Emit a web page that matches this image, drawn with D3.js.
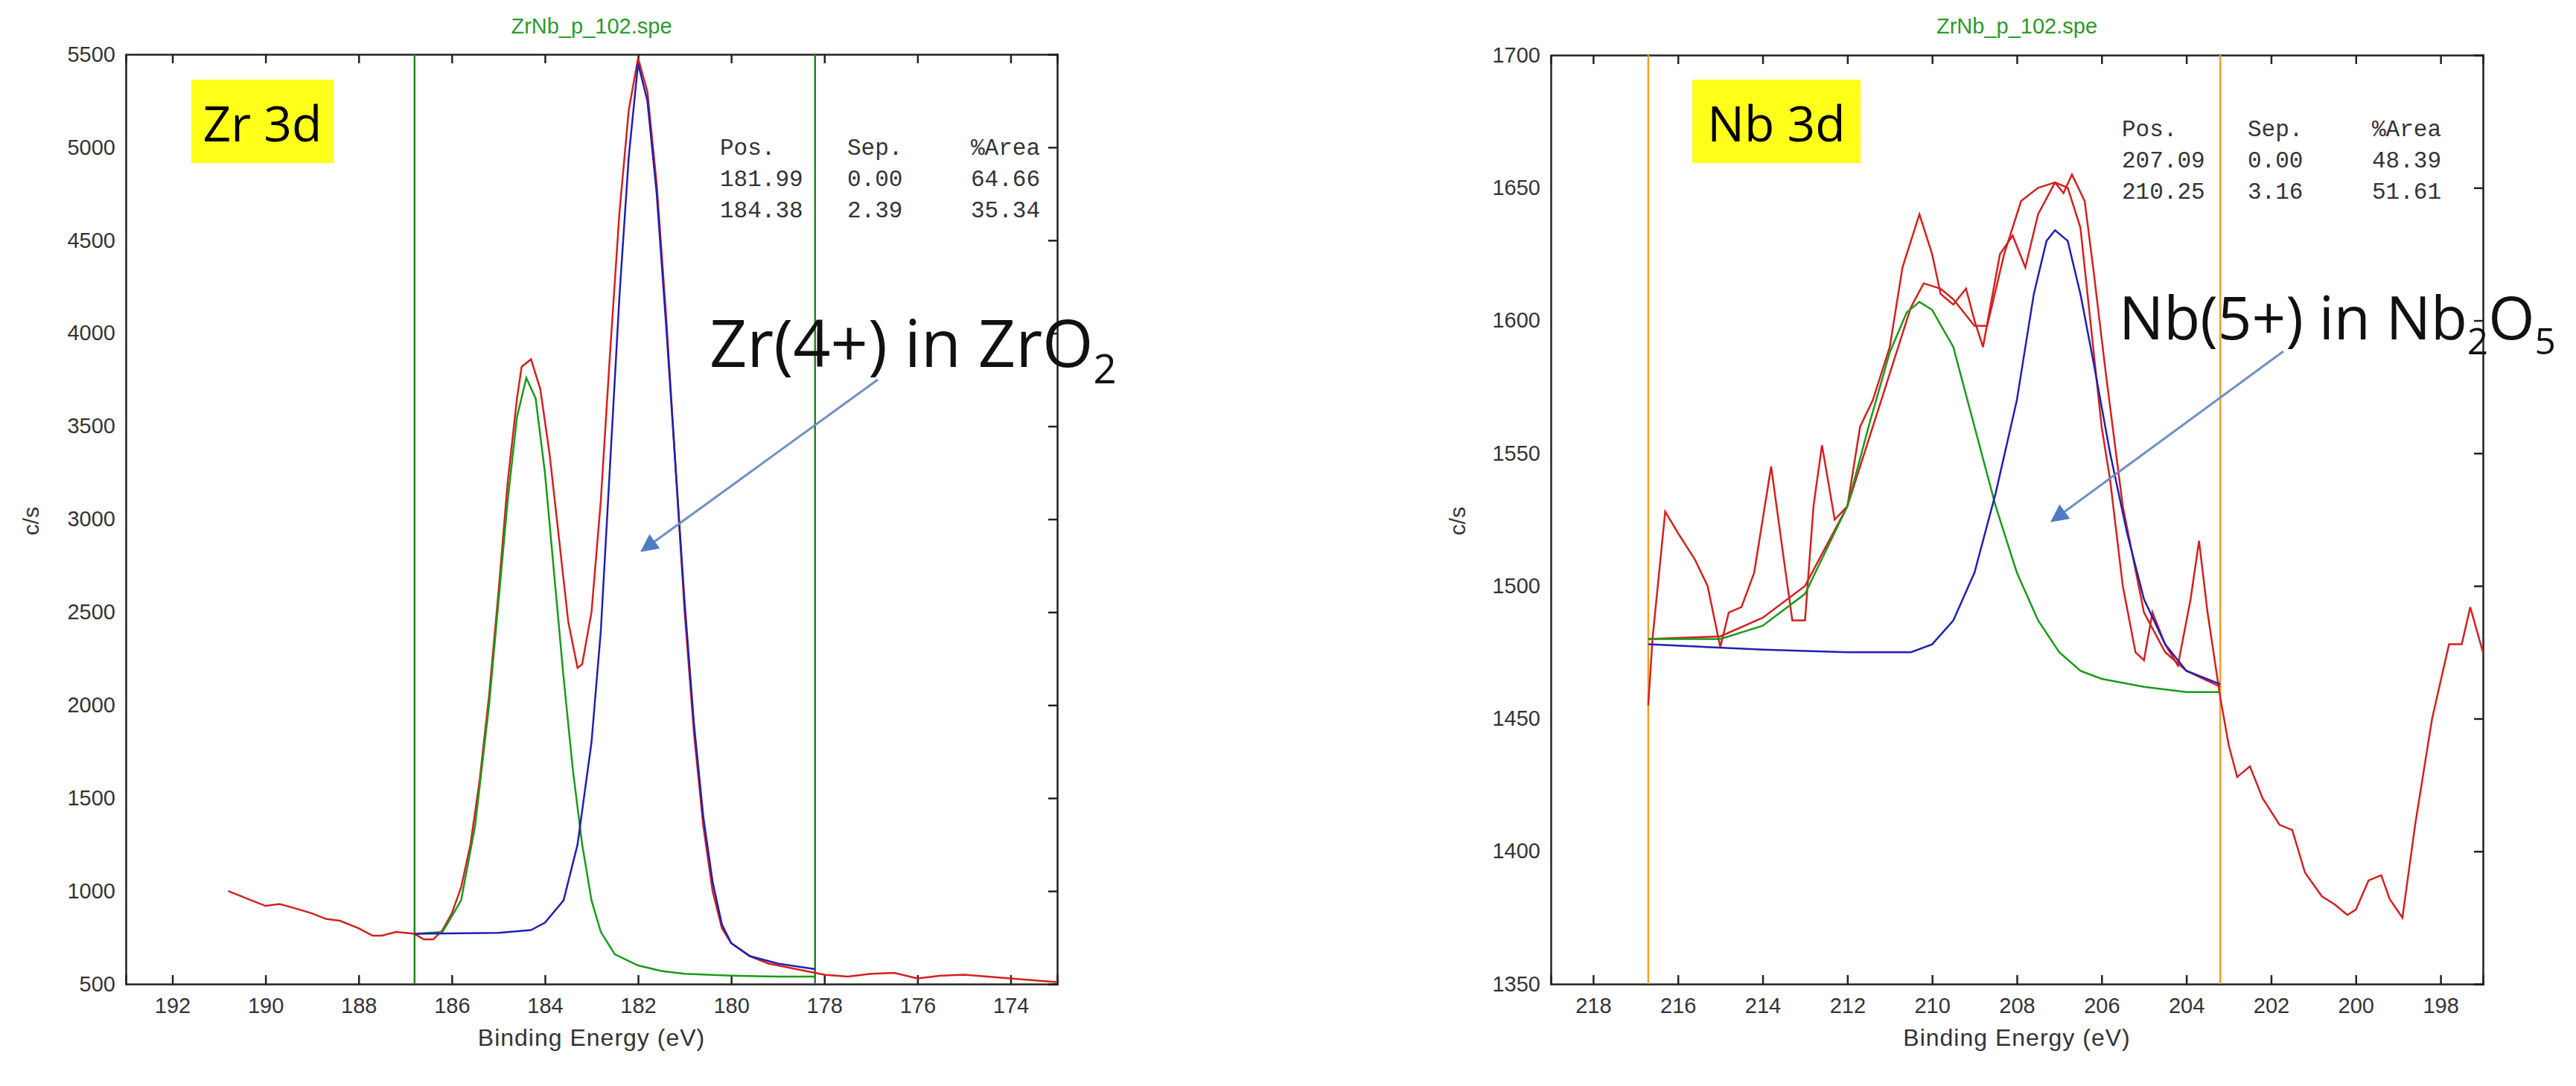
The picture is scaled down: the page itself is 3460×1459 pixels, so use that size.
<!DOCTYPE html>
<html><head><meta charset="utf-8">
<script src="https://cdn.jsdelivr.net/npm/d3@7"></script>
<style>body{margin:0;background:#fff}svg{display:block}</style>
</head><body><svg id="c" width="3460" height="1459"></svg>
<script>
// ---- Zr 3d data ----
const zrRaw = [[190.8,1000],[190.5,970],[190.2,940],[190,920],[189.7,930],[189.4,910],[189,880],[188.7,850],[188.4,840],[188,800],[187.7,760],[187.5,760],[187.2,780],[186.8,770],[186.6,740],[186.4,740],[186.2,790],[186,880],[185.8,1020],[185.6,1250],[185.4,1600],[185.2,2050],[185,2600],[184.8,3200],[184.6,3650],[184.5,3820],[184.3,3860],[184.1,3700],[183.9,3350],[183.7,2900],[183.5,2450],[183.3,2200],[183.2,2220],[183,2500],[182.8,3100],[182.6,3900],[182.4,4650],[182.2,5200],[182,5480],[181.8,5300],[181.6,4800],[181.4,4100],[181.2,3300],[181,2500],[180.8,1850],[180.6,1350],[180.4,1000],[180.2,800],[180,720],[179.6,650],[179.2,610],[178.8,590],[178.4,570],[178,550],[177.5,540],[177,555],[176.5,560],[176,530],[175.5,545],[175,550],[174.5,540],[174,530],[173.5,520],[173,510]];
const zrGreen = [[186.8,770],[186.2,780],[185.8,950],[185.5,1350],[185.2,2000],[185,2550],[184.8,3100],[184.6,3550],[184.4,3760],[184.2,3650],[184,3250],[183.8,2700],[183.6,2150],[183.4,1650],[183.2,1250],[183,950],[182.8,780],[182.5,660],[182,600],[181.5,570],[181,555],[180,545],[179,540],[178.2,540]];
const zrBlue = [[186.8,770],[185,775],[184.3,790],[184,830],[183.6,950],[183.3,1250],[183,1800],[182.8,2400],[182.6,3300],[182.4,4200],[182.2,4950],[182,5450],[181.8,5250],[181.6,4750],[181.4,4050],[181.2,3300],[181,2550],[180.8,1900],[180.6,1400],[180.4,1050],[180.2,820],[180,720],[179.6,650],[179,610],[178.2,580]];
const zrLimits = [186.8, 178.2];
const zrTable = [["Pos.","Sep.","%Area"],["181.99","0.00","64.66"],["184.38","2.39","35.34"]];
// ---- Nb 3d data ----
const nbRaw = [[216.7,1455],[216.6,1480],[216.3,1528],[216,1520],[215.6,1510],[215.3,1500],[215,1477],[214.8,1490],[214.5,1492],[214.2,1505],[213.8,1545],[213.5,1510],[213.3,1487],[213,1487],[212.8,1530],[212.6,1553],[212.3,1525],[212,1530],[211.7,1560],[211.4,1570],[211,1590],[210.7,1620],[210.3,1640],[210,1625],[209.8,1610],[209.5,1606],[209.2,1612],[209,1600],[208.8,1590],[208.4,1625],[208.1,1632],[207.8,1620],[207.5,1640],[207.1,1652],[206.8,1650],[206.5,1635],[206.2,1590],[206,1560],[205.8,1540],[205.5,1500],[205.2,1475],[205,1472],[204.8,1490],[204.5,1478],[204.2,1470],[203.9,1495],[203.7,1517],[203.5,1490],[203.2,1458],[203,1440],[202.8,1428],[202.5,1432],[202.2,1420],[201.8,1410],[201.5,1408],[201.2,1392],[200.8,1383],[200.5,1380],[200.2,1376],[200,1378],[199.7,1389],[199.4,1391],[199.2,1382],[198.9,1375],[198.6,1410],[198.2,1450],[197.8,1478],[197.5,1478],[197.3,1492],[197,1475]];
const nbSmooth = [[216.7,1480],[215,1481],[214,1488],[213,1500],[212,1530],[211,1580],[210.5,1605],[210.2,1614],[209.8,1612],[209.5,1608],[209,1598],[208.7,1598],[208.3,1625],[207.9,1645],[207.5,1650],[207.1,1652],[206.9,1648],[206.7,1655],[206.4,1645],[206.2,1620],[205.9,1580],[205.5,1530],[205,1490],[204.5,1475],[204,1468],[203.2,1462]];
const nbGreen = [[216.7,1480],[215,1480],[214,1485],[213,1497],[212,1530],[211.5,1560],[211,1588],[210.6,1603],[210.3,1607],[210,1604],[209.5,1590],[209,1560],[208.5,1530],[208,1505],[207.5,1487],[207,1475],[206.5,1468],[206,1465],[205,1462],[204,1460],[203.2,1460]];
const nbBlue = [[216.7,1478],[214,1476],[212,1475],[210.5,1475],[210,1478],[209.5,1487],[209,1505],[208.5,1535],[208,1570],[207.6,1610],[207.3,1630],[207.1,1634],[206.8,1630],[206.5,1610],[206.2,1585],[205.8,1550],[205.4,1520],[205,1495],[204.5,1478],[204,1468],[203.2,1463]];
const nbLimits = [216.7, 203.2];
const nbTable = [["Pos.","Sep.","%Area"],["207.09","0.00","48.39"],["210.25","3.16","51.61"]];

const svg = d3.select("#c");

function panel(o){
  const g = svg.append("g");
  const x = d3.scaleLinear().domain(o.xd).range([o.l,o.r]);
  const y = d3.scaleLinear().domain(o.yd).range([o.b,o.t]);
  const xt = d3.range(o.xt[0], o.xt[1]-0.01, -2);
  const yt = d3.range(o.yd[0], o.yd[1]+0.01, o.ys);
  g.append("g").attr("transform",`translate(0,${o.b})`).call(d3.axisBottom(x).tickValues(xt).tickSize(-12).tickPadding(18).tickFormat(d3.format("d")));
  g.append("g").attr("transform",`translate(${o.l},0)`).call(d3.axisLeft(y).tickValues(yt).tickSize(0).tickPadding(14).tickFormat(d3.format("d")));
  g.append("g").attr("transform",`translate(0,${o.t})`).call(d3.axisTop(x).tickValues(xt).tickSize(-12).tickFormat(""));
  g.append("g").attr("transform",`translate(${o.r},0)`).call(d3.axisRight(y).tickValues(yt).tickSize(-12).tickFormat(""));
  g.selectAll(".domain").attr("stroke","#222").attr("stroke-width",2.5);
  g.selectAll(".tick line").attr("stroke","#222").attr("stroke-width",2.5);
  g.selectAll(".tick text").attr("font-family","Arial, Liberation Sans, sans-serif").attr("font-size",29).attr("fill","#333");
  o.lim.forEach(v=>g.append("line").attr("x1",x(v)).attr("x2",x(v)).attr("y1",o.t).attr("y2",o.b).attr("stroke",o.limC).attr("stroke-width",2.5));
  const line = d3.line().x(d=>x(d[0])).y(d=>y(d[1]));
  o.lines.forEach(([d,c])=>g.append("path").attr("d",line(d)).attr("fill","none").attr("stroke",c).attr("stroke-width",2.5));
  g.append("text").attr("x",(o.l+o.r)/2).attr("y",45).attr("text-anchor","middle").attr("font-family","Arial, Liberation Sans, sans-serif").attr("font-size",29).attr("fill","#2a9a2a").text("ZrNb_p_102.spe");
  g.append("text").attr("x",(o.l+o.r)/2).attr("y",1405).attr("text-anchor","middle").attr("font-family","Arial, Liberation Sans, sans-serif").attr("font-size",32).attr("letter-spacing",1).attr("fill","#333").text("Binding Energy (eV)");
  g.append("text").attr("transform",`translate(${o.ylx},700) rotate(-90)`).attr("text-anchor","middle").attr("font-family","Arial, Liberation Sans, sans-serif").attr("font-size",30).attr("fill","#333").text("c/s");
  g.append("rect").attr("x",o.bx).attr("y",107).attr("width",o.bw).attr("height",112).attr("fill","#ffff1a");
  g.append("text").attr("x",o.bx+o.bw/2).attr("y",190).attr("text-anchor","middle").attr("font-family","Open Sans, sans-serif").attr("font-size",66).attr("fill","#000").text(o.badge);
  o.tab.forEach((row,i)=>{
    row.forEach((s,j)=>{
      const ta = j===2 ? "end" : "start";
      g.append("text").attr("x",o.tc[j]).attr("y",o.ty+i*42).attr("text-anchor",ta).attr("font-family","Liberation Mono, DejaVu Sans Mono, monospace").attr("font-size",31).attr("fill","#333").text(s);
    });
  });
  const a = g.append("text").attr("x",o.ax).attr("y",o.ay).attr("font-family","Open Sans, sans-serif").attr("font-size",o.af).attr("fill","#111");
  o.ann.forEach(([s,sub])=>{ const t=a.append("tspan").text(s); if(sub){t.attr("dy",sub); if(sub>0) t.attr("font-size",o.af*0.62);} });
  g.append("line").attr("x1",o.ar[0]).attr("y1",o.ar[1]).attr("x2",o.ar[2]).attr("y2",o.ar[3]).attr("stroke","#6f8fc4").attr("stroke-width",3).attr("marker-end","url(#arr)");
}

svg.append("defs").append("marker").attr("id","arr").attr("viewBox","0 0 10 10").attr("refX",9).attr("refY",5).attr("markerWidth",8).attr("markerHeight",8).attr("orient","auto").append("path").attr("d","M0,0 L10,5 L0,10 z").attr("fill","#4f7ac4");

panel({xd:[193,173],yd:[500,5500],ys:500,xt:[192,174],l:169,r:1420,t:73,b:1322,lim:zrLimits,limC:"#1a8a1a",
  lines:[[zrRaw,"#d42020"],[zrGreen,"#1a9a1a"],[zrBlue,"#2020b0"]],ylx:52,bx:257,bw:191,badge:"Zr 3d",
  tab:zrTable,tc:[967,1138,1397],ty:208,ax:953,ay:493,af:88,
  ann:[["Zr(4+) in ZrO"],["2",22]],ar:[1179,510,862,740]});
panel({xd:[219,197],yd:[1350,1700],ys:50,xt:[218,198],l:2083,r:3335,t:74,b:1322,lim:nbLimits,limC:"#f0a020",
  lines:[[nbRaw,"#d42020"],[nbSmooth,"#d42020"],[nbGreen,"#1a9a1a"],[nbBlue,"#2020b0"]],ylx:1968,bx:2273,bw:226,badge:"Nb 3d",
  tab:nbTable,tc:[2850,3019,3279],ty:183,ax:2846,ay:456,af:80,
  ann:[["Nb(5+) in Nb"],["2",20],["O",-20],["5",20]],ar:[3067,472,2756,700]});
</script></body></html>
